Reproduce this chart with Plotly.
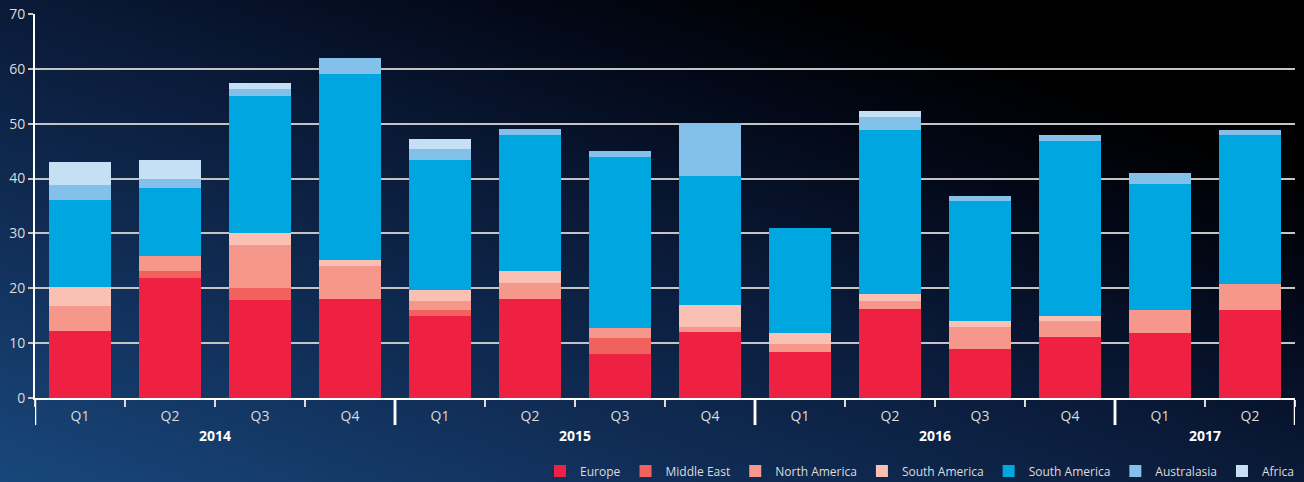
import base64
import plotly.graph_objects as go

# Quarterly values, stacked by region
quarters = ["Q1", "Q2", "Q3", "Q4", "Q1", "Q2", "Q3", "Q4", "Q1", "Q2", "Q3", "Q4", "Q1", "Q2"]
years = ["2014"] * 4 + ["2015"] * 4 + ["2016"] * 4 + ["2017"] * 2

europe = [12.2, 21.9, 17.9, 18.1, 15.0, 18.1, 8.1, 12.1, 8.3, 16.3, 9.0, 11.2, 11.9, 16.1]
middle_east = [0, 1.3, 2.2, 0, 1.1, 0, 2.9, 0, 0, 0, 0, 0, 0, 0]
north_america = [4.6, 2.6, 7.8, 6.0, 1.6, 2.9, 1.8, 0.9, 1.6, 1.4, 4.0, 2.9, 4.2, 4.6]
south_america_a = [3.5, 0, 2.1, 1.1, 2.0, 2.2, 0, 4.0, 2.0, 1.3, 1.1, 0.9, 0, 0]
south_america_b = [15.8, 12.4, 25.1, 33.9, 23.6, 24.8, 31.2, 23.5, 19.1, 29.9, 21.9, 31.9, 23.0, 27.3]
australasia = [2.8, 1.8, 1.3, 2.9, 2.1, 1.1, 1.1, 9.7, 0, 2.4, 0.9, 1.1, 2.0, 0.9]
africa = [4.2, 3.3, 1.1, 0, 1.9, 0, 0, 0, 0, 1.1, 0, 0, 0, 0]

series = [
    ("Europe", europe, "#ee2142"),
    ("Middle East", middle_east, "#f1615e"),
    ("North America", north_america, "#f5978a"),
    ("South America", south_america_a, "#fac0b4"),
    ("South America", south_america_b, "#00a6df"),
    ("Australasia", australasia, "#83c1eb"),
    ("Africa", africa, "#c5e0f5"),
]

W, H = 1304, 482
ML, MR, MT, MB = 35, 9, 14, 84
PW, PH = W - ML - MR, H - MT - MB

FONT = "Open Sans, Noto Sans, sans-serif"
x = list(range(len(quarters)))

fig = go.Figure()
for name, vals, color in series:
    fig.add_trace(go.Bar(
        x=x, y=vals, name=name,
        marker=dict(color=color, line=dict(width=0)),
    ))

# Background: diagonal navy-to-black gradient drawn as an SVG image
svg = (
    f'<svg xmlns="http://www.w3.org/2000/svg" width="{W}" height="{H}" '
    f'viewBox="0 0 {W} {H}" preserveAspectRatio="none">'
    '<defs><linearGradient id="g" x1="0" y1="1" x2="1" y2="0">'
    '<stop offset="0" stop-color="#18477b"/>'
    '<stop offset="0.25" stop-color="#112f59"/>'
    '<stop offset="0.5" stop-color="#0a1a38"/>'
    '<stop offset="0.68" stop-color="#030919"/>'
    '<stop offset="0.82" stop-color="#000000"/>'
    '<stop offset="1" stop-color="#000000"/>'
    '</linearGradient></defs>'
    f'<rect width="{W}" height="{H}" fill="url(#g)"/></svg>'
)
bg_uri = "data:image/svg+xml;base64," + base64.b64encode(svg.encode()).decode()

# Year groups: dividers at group edges and bold labels centred under each group
groups = []
for i, yr in enumerate(years):
    if not groups or groups[-1][0] != yr:
        groups.append([yr, i, i])
    else:
        groups[-1][2] = i

shapes = []
annotations = []
div_len = 27 / PH
for yr, a, b in groups:
    for edge in (a - 0.5, b + 0.5):
        shapes.append(dict(type="line", xref="x", yref="paper",
                           x0=edge, x1=edge, y0=0, y1=-div_len,
                           line=dict(color="white", width=2.5)))
    annotations.append(dict(x=(a + b) / 2, y=-37 / PH, xref="x", yref="paper",
                            text=f"<b>{yr}</b>", showarrow=False,
                            yanchor="middle", xanchor="center",
                            font=dict(family=FONT, size=14, color="white")))

fig.update_layout(
    width=W, height=H,
    margin=dict(l=ML, r=MR, t=MT, b=MB, pad=0, autoexpand=False),
    barmode="stack",
    bargap=0.31,
    paper_bgcolor="#0a1a38",
    plot_bgcolor="rgba(0,0,0,0)",
    images=[dict(source=bg_uri, xref="paper", yref="paper",
                 x=-ML / PW, y=1 + MT / PH, sizex=W / PW, sizey=H / PH,
                 xanchor="left", yanchor="top", sizing="stretch",
                 layer="below")],
    shapes=shapes,
    annotations=annotations,
    showlegend=True,
    legend=dict(orientation="h", x=1 + 4 / PW, xanchor="right",
                y=-73 / PH, yanchor="middle", traceorder="normal",
                bgcolor="rgba(0,0,0,0)", itemwidth=30,
                font=dict(family=FONT, size=12, color="#dcdcdc")),
    xaxis=dict(
        range=[-0.5, len(quarters) - 0.5],
        tickmode="array", tickvals=x, ticktext=quarters,
        ticks="outside", ticklen=4, tickcolor="rgba(0,0,0,0)",
        tickfont=dict(family=FONT, size=14, color="#dcdcdc"),
        showgrid=False, zeroline=False,
        showline=True, linecolor="white", linewidth=2,
        minor=dict(tickmode="linear", tick0=-0.5, dtick=1,
                   ticks="outside", ticklen=7, tickwidth=1.5,
                   tickcolor="#dcdcdc", showgrid=False),
    ),
    yaxis=dict(
        range=[0, 70], tickmode="linear", tick0=0, dtick=10,
        ticks="outside", ticklen=5, tickwidth=1.5, tickcolor="#c8c8c8",
        tickfont=dict(family=FONT, size=14, color="#dcdcdc"),
        showgrid=True, gridcolor="#c4c4c4", gridwidth=1.5,
        zeroline=False,
        showline=True, linecolor="white", linewidth=2,
    ),
)

fig.write_html("out.html")
